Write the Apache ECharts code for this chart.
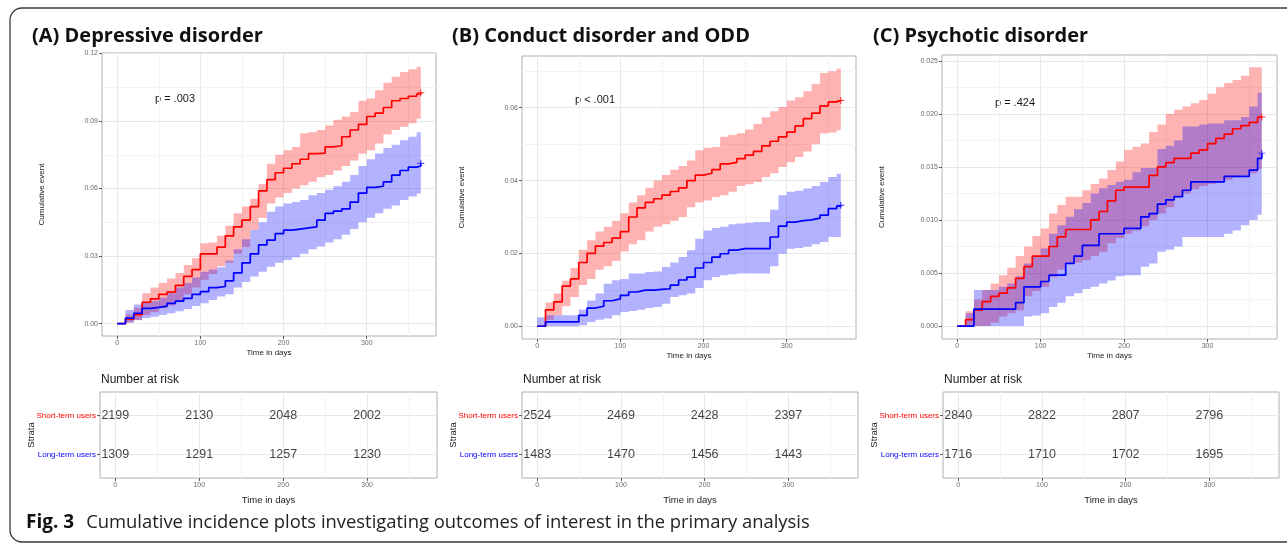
<!DOCTYPE html>
<html>
<head>
<meta charset="utf-8">
<script src="https://cdn.jsdelivr.net/npm/echarts@6/dist/echarts.min.js"></script>
<style>
  html, body { margin: 0; padding: 0; background: #fff; }
  #chart { width: 1287px; height: 545px; }
</style>
</head>
<body>
<div id="chart"></div>
<script>
// time grid (days) shared by every curve
const days = [0, 10, 20, 30, 40, 50, 60, 70, 80, 90,
  100, 110, 120, 130, 140, 150, 160, 170, 180, 190,
  200, 210, 220, 230, 240, 250, 260, 270, 280, 290,
  300, 310, 320, 330, 340, 350, 360, 365]

// (A) Depressive disorder
const redA = [0, 0.002, 0.004, 0.0095, 0.011, 0.013, 0.014, 0.017, 0.021, 0.024,
  0.031, 0.031, 0.034, 0.039, 0.043, 0.046, 0.052, 0.059, 0.064, 0.067,
  0.069, 0.071, 0.073, 0.0755, 0.0757, 0.0785, 0.079, 0.083, 0.086, 0.0885,
  0.092, 0.0935, 0.096, 0.099, 0.1, 0.101, 0.102, 0.1025]
const redLoA = [0, 0.0005, 0.0015, 0.0038, 0.005, 0.0068, 0.008, 0.01, 0.013, 0.016,
  0.0195, 0.022, 0.0255, 0.027, 0.031, 0.034, 0.0416, 0.047, 0.0534, 0.056,
  0.058, 0.06, 0.0615, 0.063, 0.065, 0.066, 0.068, 0.07, 0.0725, 0.0755,
  0.077, 0.08, 0.084, 0.086, 0.0874, 0.089, 0.091, 0.0911]
const redHiA = [0, 0.004, 0.007, 0.0135, 0.016, 0.018, 0.02, 0.0225, 0.026, 0.029,
  0.0357, 0.036, 0.039, 0.0435, 0.049, 0.052, 0.0555, 0.062, 0.071, 0.075,
  0.077, 0.0785, 0.0845, 0.085, 0.086, 0.088, 0.0905, 0.092, 0.094, 0.099,
  0.1, 0.1037, 0.107, 0.1096, 0.1118, 0.113, 0.1141, 0.1141]
const blueA = [0, 0.0024, 0.0046, 0.0068, 0.0072, 0.0078, 0.009, 0.01, 0.0112, 0.013,
  0.0142, 0.016, 0.0165, 0.019, 0.0225, 0.027, 0.031, 0.035, 0.0371, 0.04,
  0.0415, 0.042, 0.0425, 0.043, 0.046, 0.049, 0.05, 0.051, 0.054, 0.058,
  0.0605, 0.061, 0.063, 0.066, 0.068, 0.0695, 0.07, 0.0712]
const blueLoA = [0, 0.0005, 0.0016, 0.0025, 0.003, 0.0038, 0.0046, 0.0055, 0.0065, 0.0078,
  0.009, 0.0105, 0.012, 0.013, 0.016, 0.0185, 0.0209, 0.023, 0.0253, 0.027,
  0.0283, 0.0295, 0.031, 0.033, 0.0342, 0.036, 0.0375, 0.0395, 0.042, 0.045,
  0.047, 0.049, 0.051, 0.0525, 0.0549, 0.0565, 0.0578, 0.0579]
const blueHiA = [0, 0.006, 0.0085, 0.0095, 0.01, 0.0115, 0.0135, 0.016, 0.018, 0.0205,
  0.023, 0.024, 0.025, 0.028, 0.033, 0.0375, 0.0416, 0.045, 0.0497, 0.052,
  0.0534, 0.054, 0.0549, 0.057, 0.058, 0.0595, 0.061, 0.063, 0.066, 0.07,
  0.073, 0.0756, 0.078, 0.0795, 0.0815, 0.083, 0.085, 0.0852]

// (B) Conduct disorder and ODD
const redB = [0, 0.0045, 0.0067, 0.011, 0.013, 0.0175, 0.02, 0.022, 0.023, 0.0242,
  0.026, 0.03, 0.0325, 0.034, 0.035, 0.036, 0.037, 0.038, 0.04, 0.0415,
  0.042, 0.043, 0.0446, 0.045, 0.046, 0.047, 0.048, 0.0495, 0.0508, 0.052,
  0.0533, 0.055, 0.057, 0.0585, 0.0605, 0.0616, 0.062, 0.062]
const redLoB = [0, 0.0018, 0.003, 0.0055, 0.008, 0.0113, 0.013, 0.0155, 0.0165, 0.018,
  0.0205, 0.0225, 0.0236, 0.026, 0.0273, 0.028, 0.029, 0.03, 0.0327, 0.034,
  0.0345, 0.0355, 0.036, 0.0369, 0.0385, 0.039, 0.0396, 0.041, 0.042, 0.0437,
  0.045, 0.0465, 0.048, 0.05, 0.0529, 0.0532, 0.0538, 0.0538]
const redHiB = [0, 0.0065, 0.009, 0.0125, 0.016, 0.021, 0.0236, 0.026, 0.0273, 0.029,
  0.031, 0.034, 0.036, 0.038, 0.04, 0.0415, 0.043, 0.044, 0.0455, 0.0483,
  0.049, 0.0492, 0.052, 0.0525, 0.053, 0.054, 0.0555, 0.0574, 0.059, 0.0602,
  0.062, 0.0629, 0.0645, 0.0665, 0.0695, 0.07, 0.0707, 0.0707]
const blueB = [0, 0.0012, 0.0012, 0.0012, 0.0012, 0.003, 0.005, 0.0055, 0.007, 0.0075,
  0.0085, 0.0094, 0.0099, 0.0099, 0.0101, 0.0103, 0.0113, 0.0127, 0.0135, 0.016,
  0.0175, 0.019, 0.0199, 0.0209, 0.0213, 0.0213, 0.0213, 0.0213, 0.0245, 0.0275,
  0.0286, 0.029, 0.0292, 0.0297, 0.0305, 0.0323, 0.033, 0.0332]
const blueLoB = [0, 0, 0, 0, 0, 0.0003, 0.0012, 0.0018, 0.0021, 0.003,
  0.0039, 0.0042, 0.0045, 0.005, 0.0053, 0.0062, 0.008, 0.0085, 0.009, 0.0105,
  0.0126, 0.0135, 0.014, 0.0143, 0.0145, 0.0145, 0.0145, 0.0145, 0.0165, 0.0199,
  0.0213, 0.0215, 0.0218, 0.0225, 0.0231, 0.0245, 0.0245, 0.0245]
const blueHiB = [0.0025, 0.003, 0.003, 0.003, 0.003, 0.0045, 0.0071, 0.009, 0.0117, 0.0126,
  0.013, 0.0145, 0.0145, 0.0149, 0.015, 0.0163, 0.0175, 0.019, 0.0209, 0.024,
  0.0263, 0.027, 0.0273, 0.028, 0.0282, 0.0284, 0.0286, 0.0286, 0.032, 0.036,
  0.0369, 0.0372, 0.0378, 0.0385, 0.0396, 0.041, 0.0419, 0.0419]

// (C) Psychotic disorder
const redC = [0, 0.0006, 0.0015, 0.0023, 0.0028, 0.0031, 0.0036, 0.0045, 0.0056, 0.0066,
  0.0066, 0.0075, 0.0084, 0.0091, 0.0091, 0.0091, 0.01, 0.0108, 0.0118, 0.0128,
  0.0131, 0.0131, 0.0131, 0.0142, 0.015, 0.0154, 0.0158, 0.0158, 0.0163, 0.0166,
  0.0172, 0.0177, 0.0181, 0.0186, 0.0189, 0.0192, 0.0197, 0.0197]
const redLoC = [0, 0, 0, 0, 0.0003, 0.0009, 0.0012, 0.0015, 0.0028, 0.0033,
  0.0037, 0.0046, 0.0053, 0.0059, 0.006, 0.0062, 0.0066, 0.007, 0.0078, 0.0083,
  0.0087, 0.009, 0.0094, 0.01, 0.0106, 0.0112, 0.0122, 0.0125, 0.0129, 0.0132,
  0.0134, 0.0137, 0.0138, 0.014, 0.0142, 0.0144, 0.0148, 0.015]
const redHiC = [0, 0.0014, 0.0025, 0.0034, 0.004, 0.0048, 0.0055, 0.0066, 0.0075, 0.0085,
  0.0092, 0.0106, 0.0114, 0.0122, 0.0122, 0.0128, 0.0134, 0.0139, 0.0147, 0.0155,
  0.0166, 0.0169, 0.0172, 0.0183, 0.019, 0.02, 0.0204, 0.0207, 0.021, 0.0213,
  0.0219, 0.0225, 0.0229, 0.0232, 0.0236, 0.0244, 0.0244, 0.0244]
const blueC = [0, 0, 0.0016, 0.0016, 0.0016, 0.0016, 0.0016, 0.0022, 0.0037, 0.0037,
  0.0042, 0.0048, 0.0048, 0.0059, 0.0066, 0.0076, 0.0076, 0.0087, 0.0087, 0.0087,
  0.0092, 0.0092, 0.0103, 0.0106, 0.0115, 0.0119, 0.0122, 0.0128, 0.0136, 0.0136,
  0.0136, 0.0136, 0.0141, 0.0141, 0.0141, 0.0147, 0.0158, 0.0163]
const blueLoC = [0, 0, 0, 0, 0, 0, 0, 0, 0.0009, 0.001,
  0.0012, 0.0018, 0.0022, 0.0028, 0.0031, 0.0035, 0.0037, 0.004, 0.0043, 0.0047,
  0.0048, 0.0048, 0.0056, 0.0059, 0.007, 0.0072, 0.0075, 0.0084, 0.0084, 0.0084,
  0.0084, 0.0084, 0.0087, 0.009, 0.0095, 0.01, 0.0105, 0.0106]
const blueHiC = [0, 0.0012, 0.0034, 0.0034, 0.0034, 0.0037, 0.004, 0.0047, 0.0059, 0.0065,
  0.0073, 0.0087, 0.0095, 0.0103, 0.011, 0.0116, 0.0125, 0.013, 0.0133, 0.0136,
  0.0138, 0.0145, 0.0149, 0.0149, 0.0167, 0.017, 0.0175, 0.0188, 0.0188, 0.019,
  0.0191, 0.0191, 0.0194, 0.0194, 0.0197, 0.0207, 0.022, 0.0221]

// number at risk
const riskTimes = [0, 100, 200, 300]
const riskShortA = [2199, 2130, 2048, 2002]
const riskLongA = [1309, 1291, 1257, 1230]
const riskShortB = [2524, 2469, 2428, 2397]
const riskLongB = [1483, 1470, 1456, 1443]
const riskShortC = [2840, 2822, 2807, 2796]
const riskLongC = [1716, 1710, 1702, 1695]

// ticks
const xTicks = [0, 100, 200, 300]
const xMinor = [50, 150, 250, 350]
const yTicksA = [0, 0.03, 0.06, 0.09, 0.12]
const yMinorA = [0.015, 0.045, 0.075, 0.105]
const yTicksB = [0, 0.02, 0.04, 0.06]
const yMinorB = [0.01, 0.03, 0.05, 0.07]
const yTicksC = [0, 0.005, 0.01, 0.015, 0.02, 0.025]
const yMinorC = [0.0025, 0.0075, 0.0125, 0.0175, 0.0225]
const strataRows = [1, 2] // 1 = long-term, 2 = short-term

const FONT = '"Liberation Sans", Arial, sans-serif'
const RED = '#ff0000'
const BLUE = '#0000ff'
const X_RANGE = [-18.25, 383.25]
const CROSS = 'path://M0,4.3H10V5.7H0Z M4.3,0H5.7V10H4.3Z'

const panels = [
  {
    title: '(A) Depressive disorder', titleX: 32, pText: 'p = .003', pPos: [175, 99],
    plot: { left: 102, top: 53, width: 334, height: 283 },
    table: { left: 100, top: 392, width: 337, height: 86 },
    yRange: [-0.0055, 0.1202], yTicks: yTicksA, yMinor: yMinorA, dec: 2,
    red: [redA, redLoA, redHiA], blue: [blueA, blueLoA, blueHiA],
    short: riskShortA, long: riskLongA
  },
  {
    title: '(B) Conduct disorder and ODD', titleX: 452, pText: 'p < .001', pPos: [595, 100],
    plot: { left: 522, top: 56, width: 334, height: 283 },
    table: { left: 522, top: 392, width: 336, height: 86 },
    yRange: [-0.0035, 0.0742], yTicks: yTicksB, yMinor: yMinorB, dec: 2,
    red: [redB, redLoB, redHiB], blue: [blueB, blueLoB, blueHiB],
    short: riskShortB, long: riskLongB
  },
  {
    title: '(C) Psychotic disorder', titleX: 873, pText: 'p = .424', pPos: [1015, 103],
    plot: { left: 942, top: 55, width: 335, height: 284 },
    table: { left: 943, top: 392, width: 336, height: 86 },
    yRange: [-0.00122, 0.02555], yTicks: yTicksC, yMinor: yMinorC, dec: 3,
    red: [redC, redLoC, redHiC], blue: [blueC, blueLoC, blueHiC],
    short: riskShortC, long: riskLongC
  }
]

function gridBox(box) {
  return { ...box, show: true, borderColor: '#b0b0b0', borderWidth: 1, backgroundColor: '#fff', containLabel: false, outerBoundsMode: 'none' }
}

function majorAxis(gridIndex, range, ticks, extra) {
  return {
    type: 'value', gridIndex, min: range[0], max: range[1],
    nameLocation: 'middle', nameMoveOverlap: false,
    axisLine: { show: false, onZero: false },
    axisTick: { show: true, length: 3, lineStyle: { color: '#333', width: 0.8 }, customValues: ticks },
    axisLabel: { fontSize: 7, color: '#6b6b6b', margin: 4, fontFamily: FONT, customValues: ticks },
    splitLine: { show: true, lineStyle: { color: '#e8e8e8', width: 1 } },
    ...extra
  }
}

function minorAxis(gridIndex, range, ticks, position) {
  return {
    type: 'value', gridIndex, min: range[0], max: range[1], position,
    axisLine: { show: false, onZero: false },
    axisTick: { show: false, customValues: ticks },
    axisLabel: { show: false, customValues: ticks },
    splitLine: { show: true, lineStyle: { color: '#f4f4f4', width: 1 } }
  }
}

// confidence band drawn as one step-shaped polygon through the axis scales
function ribbonSeries(xi, yi, lo, hi, fill) {
  return {
    type: 'custom', xAxisIndex: xi, yAxisIndex: yi, silent: true, clip: true,
    data: [[days[0], lo[0]]],
    renderItem: (params, api) => {
      const top = []
      const bottom = []
      days.forEach((d, i) => {
        const next = i < days.length - 1 ? days[i + 1] : d
        top.push(api.coord([d, hi[i]]), api.coord([next, hi[i]]))
        bottom.push(api.coord([d, lo[i]]), api.coord([next, lo[i]]))
      })
      return {
        type: 'polygon',
        shape: { points: top.concat(bottom.reverse()) },
        style: { fill }
      }
    }
  }
}

function curveSeries(xi, yi, curve, color, fill) {
  const [mid, lo, hi] = curve
  return [
    ribbonSeries(xi, yi, lo, hi, fill),
    {
      type: 'line', xAxisIndex: xi, yAxisIndex: yi, step: 'end', symbol: 'none', silent: true,
      data: days.map((d, i) => [d, mid[i]]), lineStyle: { color, width: 1.7 }
    },
    {
      type: 'scatter', xAxisIndex: xi, yAxisIndex: yi, silent: true,
      data: [[days[days.length - 1], mid[mid.length - 1]]],
      symbol: CROSS, symbolSize: 7, itemStyle: { color }
    }
  ]
}

function riskSeries(xi, yi, row, counts) {
  return {
    type: 'scatter', xAxisIndex: xi, yAxisIndex: yi, silent: true,
    data: riskTimes.map((t, i) => [t, row, counts[i]]),
    symbolSize: 1, itemStyle: { color: 'rgba(0,0,0,0)' },
    label: {
      show: true, position: 'inside', formatter: (p) => String(p.data[2]),
      fontSize: 12.5, color: '#111', fontFamily: FONT
    }
  }
}

const grid = []
const xAxis = []
const yAxis = []
const series = []
const graphic = [
  {
    type: 'rect', z: -1, silent: true,
    shape: { x: 10, y: 8, width: 1300, height: 534, r: 12 },
    style: { fill: 'none', stroke: '#3a3a3a', lineWidth: 1.3 }
  },
  {
    type: 'text', silent: true,
    style: {
      x: 26, y: 523, verticalAlign: 'middle',
      text: '{b|Fig. 3}{r|Cumulative incidence plots investigating outcomes of interest in the primary analysis}',
      rich: {
        b: { font: 'bold 19px "Open Sans"', fill: '#111' },
        r: { font: '18.4px "Open Sans"', fill: '#222', padding: [0, 0, 0, 12] }
      }
    }
  }
]

panels.forEach((p) => {
  const gPlot = grid.length
  grid.push(gridBox(p.plot))
  const gTab = grid.length
  grid.push(gridBox(p.table))

  const xi = xAxis.length
  xAxis.push(majorAxis(gPlot, X_RANGE, xTicks, {
    name: 'Time in days', nameGap: 13,
    nameTextStyle: { fontSize: 8, color: '#1a1a1a', fontFamily: FONT }
  }))
  xAxis.push(minorAxis(gPlot, X_RANGE, xMinor, 'top'))
  xAxis.push(majorAxis(gTab, X_RANGE, xTicks, {
    name: 'Time in days', nameGap: 17,
    nameTextStyle: { fontSize: 9.5, color: '#1a1a1a', fontFamily: FONT }
  }))
  xAxis.push(minorAxis(gTab, X_RANGE, xMinor, 'top'))

  const yi = yAxis.length
  yAxis.push(majorAxis(gPlot, p.yRange, p.yTicks, {
    name: 'Cumulative event', nameGap: 56, nameRotate: 90,
    nameTextStyle: { fontSize: 8, color: '#1a1a1a', fontFamily: FONT },
    axisLabel: {
      fontSize: 7, color: '#6b6b6b', margin: 4, fontFamily: FONT, customValues: p.yTicks,
      formatter: (v) => Number(v).toFixed(p.dec)
    }
  }))
  yAxis.push(minorAxis(gPlot, p.yRange, p.yMinor, 'right'))
  const yTab = yAxis.length
  yAxis.push(majorAxis(gTab, [0.4, 2.6], strataRows, {
    name: 'Strata', nameGap: 64, nameRotate: 90,
    nameTextStyle: { fontSize: 9.5, color: '#1a1a1a', fontFamily: FONT },
    axisLabel: {
      margin: 4, customValues: strataRows,
      formatter: (v) => (Number(v) > 1.5 ? '{s|Short-term users}' : '{l|Long-term users}'),
      rich: {
        s: { color: RED, fontSize: 8, fontFamily: FONT },
        l: { color: BLUE, fontSize: 8, fontFamily: FONT }
      }
    }
  }))

  series.push(...curveSeries(xi, yi, p.red, RED, 'rgba(255,0,0,0.3)'))
  series.push(...curveSeries(xi, yi, p.blue, BLUE, 'rgba(0,0,255,0.3)'))
  series.push(riskSeries(xi + 2, yTab, 2, p.short))
  series.push(riskSeries(xi + 2, yTab, 1, p.long))

  graphic.push({
    type: 'text', silent: true,
    style: { x: p.titleX, y: 36, text: p.title, verticalAlign: 'middle', font: 'bold 20px "Open Sans"', fill: '#111' }
  })
  graphic.push({
    type: 'text', silent: true,
    style: { x: p.pPos[0], y: p.pPos[1], text: p.pText, align: 'center', verticalAlign: 'middle', font: '11px ' + FONT, fill: '#1a1a1a' }
  })
  graphic.push({
    type: 'text', silent: true,
    style: { x: p.table.left + 1, y: 380, text: 'Number at risk', verticalAlign: 'middle', font: '12px ' + FONT, fill: '#1a1a1a' }
  })
})

const chart = echarts.init(document.getElementById('chart'), null, { renderer: 'canvas' })
chart.setOption({
  animation: false,
  backgroundColor: '#fff',
  textStyle: { fontFamily: FONT },
  grid,
  xAxis,
  yAxis,
  series,
  graphic
})
</script>
</body>
</html>
